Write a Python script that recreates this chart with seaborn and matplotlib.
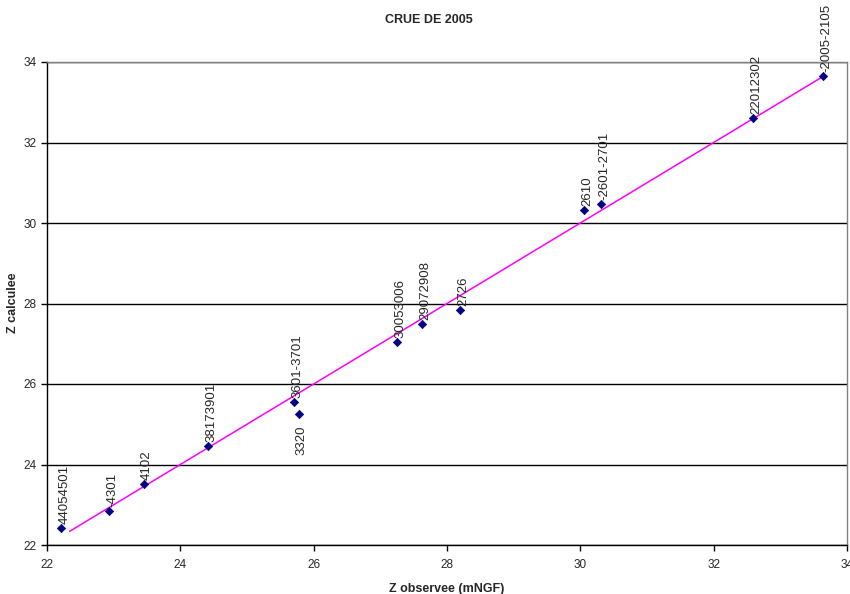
import pandas as pd
import seaborn as sns
import matplotlib
matplotlib.use('Agg')
import matplotlib.pyplot as plt

# releves de la crue de 2005
labels = ['44054501', '-4301', '4102', '38173901', '3601-3701', '3320',
          '30053006', '29072908', '2726', '2610', '-2601-2701', '22012302',
          '-2005-2105']
z_obs = [22.21, 22.93, 23.45, 24.41, 25.70, 25.78, 27.25, 27.63, 28.19,
         30.05, 30.31, 32.59, 33.64]
z_calc = [22.42, 22.84, 23.51, 24.46, 25.55, 25.25, 27.04, 27.49, 27.84,
          30.32, 30.47, 32.61, 33.65]
# droite z calculee = z observee
line_x = [22.34, 33.64]
line_y = [22.34, 33.64]

df = pd.DataFrame({'obs': z_obs, 'calc': z_calc, 'label': labels})
line_df = pd.DataFrame({'x': line_x, 'y': line_y})

sns.set_style('white')
plt.rcParams['font.family'] = ['Liberation Sans', 'DejaVu Sans']

fig = plt.figure(figsize=(8.5, 5.94), dpi=100)
ax = fig.add_axes([47 / 850, 1 - 545 / 594, 800 / 850, 483 / 594])

sns.lineplot(data=line_df, x='x', y='y', color='#ff00ff', lw=1.1, ax=ax, zorder=2)
sns.scatterplot(data=df, x='obs', y='calc', marker='D', color='#000080',
                s=18, edgecolor='#000080', linewidth=0.5, ax=ax, zorder=3)

for _, r in df.iterrows():
    if r['label'] == '3320':
        ax.annotate(r['label'], (r['obs'], r['calc']), xytext=(2, -8),
                    textcoords='offset points', rotation=90, ha='center',
                    va='top', fontsize=9.5)
    else:
        ax.annotate(r['label'], (r['obs'], r['calc']), xytext=(2.5, 3),
                    textcoords='offset points', rotation=90, ha='center',
                    va='bottom', fontsize=9.5)

ax.set_xlim(22, 34)
ax.set_ylim(22, 34)
ax.set_xticks(range(22, 35, 2))
ax.set_yticks(range(22, 35, 2))
ax.yaxis.grid(True, color='black', lw=1)
ax.xaxis.grid(False)
ax.set_axisbelow(True)
for side in ['top', 'right']:
    ax.spines[side].set_color('#808080')
for side in ['left', 'bottom']:
    ax.spines[side].set_color('black')
for sp in ax.spines.values():
    sp.set_linewidth(1)
ax.tick_params(axis='both', direction='out', length=4, width=1, color='black',
               labelsize=8.5, bottom=True, left=True)
ax.tick_params(axis='x', pad=6)

ax.set_xlabel('Z observee (mNGF)', fontsize=9, fontweight='bold')
ax.xaxis.set_label_coords(400 / 800, -(583 - 545) / 483)
ax.set_ylabel('Z calculee', fontsize=9, fontweight='bold')
ax.yaxis.set_label_coords(-(47 - 19) / 800, (545 - 303) / 483)
fig.text(429 / 850, 1 - 20 / 594, 'CRUE DE 2005', ha='center', va='center',
         fontsize=9, fontweight='bold')

fig.savefig('out.png', dpi=100)
